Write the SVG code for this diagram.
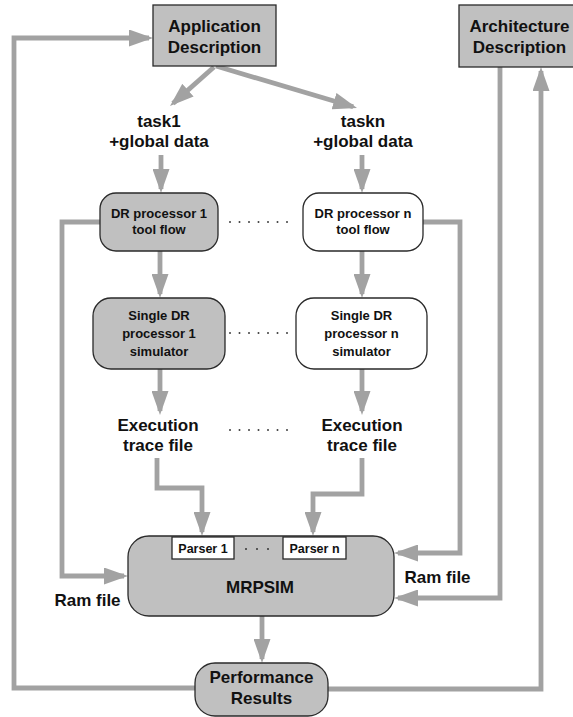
<svg xmlns="http://www.w3.org/2000/svg" width="573" height="717" viewBox="0 0 573 717">
  <style>
    .box { fill: #c0c0c0; stroke: #2a2a2a; stroke-width: 1.3; }
    .wbox { fill: #ffffff; stroke: #2a2a2a; stroke-width: 1.3; }
    .t { font-family: "Liberation Sans", Arial, sans-serif; font-weight: bold; fill: #111; text-anchor: middle; }
    .t17 { font-size: 17px; }
    .t13 { font-size: 13px; }
    .t12 { font-size: 12.5px; }
    .conn { fill: none; stroke: #a2a2a2; stroke-width: 4.8; stroke-linejoin: miter; }
    .arrow { marker-end: url(#head); }
    .dots { stroke: #111; stroke-width: 1.6; stroke-dasharray: 1.6 7.9; fill: none; }
  </style>
  <defs>
    <!-- long narrow arrowhead; tip sits 4px past the end of the shaft -->
    <marker id="head" markerUnits="userSpaceOnUse" markerWidth="24" markerHeight="17" refX="20" refY="8.5" orient="auto">
      <path d="M0,0 L24,8.5 L0,17 z" fill="#a2a2a2"/>
    </marker>
  </defs>

  <rect width="573" height="717" fill="#ffffff"/>

  <!-- connectors -->
  <g id="connectors">
    <path class="conn arrow" d="M214,67 L173,103.4"/>
    <path class="conn arrow" d="M216,66 L353.2,106.8"/>
    <path class="conn arrow" d="M161,155 V189"/>
    <path class="conn arrow" d="M362,155 V189"/>
    <path class="conn arrow" d="M160,251 V294"/>
    <path class="conn arrow" d="M362,251 V294"/>
    <path class="conn arrow" d="M160,369 V411"/>
    <path class="conn arrow" d="M362,369 V411"/>
    <path class="conn arrow" d="M157,458 V488 H202 V532"/>
    <path class="conn arrow" d="M362,458 V494 H313 V532"/>
    <path class="conn arrow" d="M100,222 H62 V576 H124"/>
    <path class="conn arrow" d="M423,222 H460 V553 H398"/>
    <path class="conn arrow" d="M500,67 V598 H398"/>
    <path class="conn arrow" d="M262,616 V659"/>
    <path class="conn arrow" d="M328,689 H541 V71"/>
    <path class="conn arrow" d="M195,688 H14 V38 H149"/>
    <!-- ellipsis rows between the parallel chains -->
    <line class="dots" x1="229.2" y1="222" x2="292" y2="222"/>
    <line class="dots" x1="229.2" y1="333" x2="292" y2="333"/>
    <line class="dots" x1="229.2" y1="430" x2="292" y2="430"/>
  </g>

  <g id="app-desc">
    <rect class="box" x="153" y="5" width="123" height="61"/>
    <text class="t t17" x="214.5" y="32">Application</text>
    <text class="t t17" x="214.5" y="53">Description</text>
  </g>

  <g id="arch-desc">
    <rect class="box" x="459" y="5" width="130" height="62"/>
    <text class="t t17" x="519.5" y="32">Architecture</text>
    <text class="t t17" x="519.5" y="53">Description</text>
  </g>

  <g id="task1">
    <text class="t t17" x="159" y="127">task1</text>
    <text class="t t17" x="159" y="147">+global data</text>
  </g>

  <g id="taskn">
    <text class="t t17" x="363" y="127">taskn</text>
    <text class="t t17" x="363" y="147">+global data</text>
  </g>

  <g id="dr1-toolflow">
    <rect class="box" x="100" y="193" width="118" height="58" rx="16" ry="16"/>
    <text class="t t13" x="159" y="218">DR processor 1</text>
    <text class="t t13" x="159" y="234">tool flow</text>
  </g>

  <g id="drn-toolflow">
    <rect class="wbox" x="303" y="193" width="120" height="58" rx="16" ry="16"/>
    <text class="t t13" x="363" y="218">DR processor n</text>
    <text class="t t13" x="363" y="234">tool flow</text>
  </g>

  <g id="sim1">
    <rect class="box" x="93" y="298" width="132" height="71" rx="18" ry="18"/>
    <text class="t t13" x="159" y="320">Single DR</text>
    <text class="t t13" x="159" y="338">processor 1</text>
    <text class="t t13" x="159" y="356">simulator</text>
  </g>

  <g id="simn">
    <rect class="wbox" x="296" y="298" width="131" height="71" rx="18" ry="18"/>
    <text class="t t13" x="361.5" y="320">Single DR</text>
    <text class="t t13" x="361.5" y="338">processor n</text>
    <text class="t t13" x="361.5" y="356">simulator</text>
  </g>

  <g id="trace1">
    <text class="t t17" x="158" y="431">Execution</text>
    <text class="t t17" x="158" y="451">trace file</text>
  </g>

  <g id="tracen">
    <text class="t t17" x="362" y="431">Execution</text>
    <text class="t t17" x="362" y="451">trace file</text>
  </g>

  <g id="mrpsim">
    <rect class="box" x="128" y="536" width="266" height="80" rx="21" ry="21"/>
    <rect class="wbox" x="172" y="537" width="62" height="22"/>
    <text class="t t12" x="203" y="552.5">Parser 1</text>
    <rect class="wbox" x="283" y="537" width="63" height="22"/>
    <text class="t t12" x="314.5" y="552.5">Parser n</text>
    <line class="dots" x1="245.2" y1="549" x2="272" y2="549" style="stroke-dasharray: 1.6 9.4"/>
    <text class="t t17" x="260" y="593">MRPSIM</text>
  </g>

  <g id="ram-left">
    <text class="t t17" x="87.5" y="606">Ram file</text>
  </g>

  <g id="ram-right">
    <text class="t t17" x="437.5" y="583">Ram file</text>
  </g>

  <g id="perf-results">
    <rect class="box" x="195" y="663" width="133" height="53" rx="20" ry="20"/>
    <text class="t t17" x="261.5" y="683">Performance</text>
    <text class="t t17" x="261.5" y="704">Results</text>
  </g>
</svg>
